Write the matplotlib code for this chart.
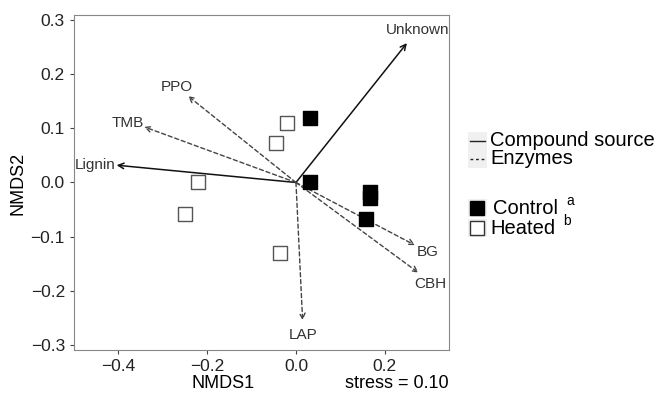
import matplotlib.pyplot as plt
from matplotlib.lines import Line2D
from matplotlib.patches import Rectangle

plt.rcParams['font.family'] = ['Liberation Sans', 'DejaVu Sans']

# pontos das amostras
control_x = [0.032, 0.032, 0.167, 0.167, 0.157]
control_y = [0.119, 0.000, -0.018, -0.028, -0.068]
heated_x = [-0.020, -0.044, -0.220, -0.250, -0.036]
heated_y = [0.111, 0.073, 0.000, -0.059, -0.130]

# vetores
vet_nomes = ['Unknown', 'Lignin', 'PPO', 'TMB', 'BG', 'CBH', 'LAP']
vet_x = [0.250, -0.404, -0.243, -0.342, 0.268, 0.276, 0.015]
vet_y = [0.258, 0.032, 0.160, 0.103, -0.116, -0.167, -0.255]
vet_tipo = ['Compound source', 'Compound source', 'Enzymes', 'Enzymes', 'Enzymes', 'Enzymes', 'Enzymes']
rot_x = [0.273, -0.453, -0.269, -0.379, 0.297, 0.302, 0.016]
rot_y = [0.282, 0.032, 0.176, 0.111, -0.128, -0.187, -0.282]

fig = plt.figure(figsize=(6.58, 3.95), dpi=100)
ax = fig.add_axes([0.1125, 0.114, 0.5700, 0.848])

for nome, x, y, tipo, rx, ry in zip(vet_nomes, vet_x, vet_y, vet_tipo, rot_x, rot_y):
    if tipo == 'Enzymes':
        ax.annotate('', xy=(x, y), xytext=(0, 0),
                    arrowprops=dict(arrowstyle='->', linestyle=(0, (3, 2)), color='#444444', lw=1.0,
                                    shrinkA=0, shrinkB=0, mutation_scale=10))
    else:
        ax.annotate('', xy=(x, y), xytext=(0, 0),
                    arrowprops=dict(arrowstyle='->', color='#111111', lw=1.1,
                                    shrinkA=0, shrinkB=0, mutation_scale=10))
    ax.text(rx, ry, nome, ha='center', va='center', fontsize=11, color='#333333')

ax.scatter(heated_x, heated_y, marker='s', s=95, facecolor='white', edgecolor='#555555', linewidth=1.0, zorder=3)
ax.scatter(control_x, control_y, marker='s', s=100, facecolor='black', edgecolor='black', zorder=3)

ax.set_xlim(-0.50, 0.345)
ax.set_ylim(-0.31, 0.31)
ax.set_xticks([-0.4, -0.2, 0.0, 0.2])
ax.set_xticklabels(['\u22120.4', '\u22120.2', '0.0', '0.2'])
ax.set_yticks([-0.3, -0.2, -0.1, 0.0, 0.1, 0.2, 0.3])
ax.set_yticklabels(['\u22120.3', '\u22120.2', '\u22120.1', '0.0', '0.1', '0.2', '0.3'])
ax.tick_params(labelsize=12.5, colors='#222222', length=3, color='#444444')
for s in ax.spines.values():
    s.set_color('#888888')

fig.text(223 / 658, 1 - 383 / 395, 'NMDS1', ha='center', va='center', fontsize=13)
fig.text(449 / 658, 1 - 383 / 395, 'stress = 0.10', ha='right', va='center', fontsize=13)
fig.text(18 / 658, 1 - 183 / 395, 'NMDS2', ha='center', va='center', fontsize=13, rotation=90)

# legenda manual
def px(x, y):
    return x / 658, 1 - y / 395

for yk, estilo, texto in [(141, '-', 'Compound source'), (159, (0, (2, 2)), 'Enzymes')]:
    x0, y0 = px(468, yk + 9)
    fig.patches.append(Rectangle((x0, y0), 19 / 658, 18 / 395, transform=fig.transFigure,
                                 facecolor='#f0f0f0', edgecolor='none'))
    xa, ya = px(470, yk)
    xb, _ = px(485, yk)
    fig.lines.append(Line2D([xa, xb], [ya, ya], transform=fig.transFigure, color='#222222',
                            linestyle=estilo, lw=1.0))
    fig.text(*px(490, yk), texto, ha='left', va='center', fontsize=14.5)

for yk, fc, texto, xt, sup, xs in [(208, 'black', 'Control', 493, 'a', 566), (228, 'white', 'Heated', 490, 'b', 563)]:
    x0, y0 = px(468, yk + 9)
    fig.patches.append(Rectangle((x0, y0), 19 / 658, 18 / 395, transform=fig.transFigure,
                                 facecolor='#f0f0f0', edgecolor='none'))
    fig.lines.append(Line2D([px(477, yk)[0]], [px(477, yk)[1]], transform=fig.transFigure, marker='s',
                            markersize=10, markerfacecolor=fc, markeredgecolor='#333333' if fc == 'white' else 'black',
                            linestyle='none'))
    fig.text(*px(xt, yk), texto, ha='left', va='center', fontsize=14.5)
    fig.text(*px(xs, yk - 7), sup, ha='left', va='center', fontsize=10)

fig.savefig('out.png', dpi=100)
